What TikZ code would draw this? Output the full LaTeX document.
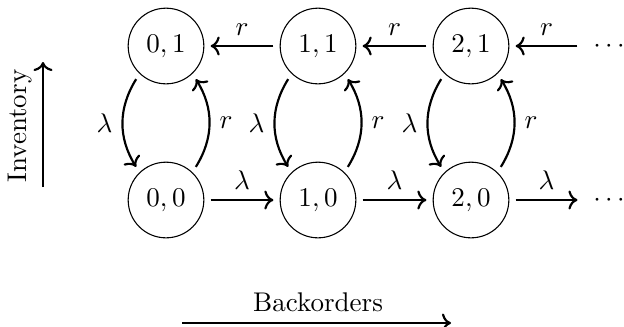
\documentclass[tikz,border=0pt]{standalone}
\usetikzlibrary{arrows.meta}
\begin{document}
\begin{tikzpicture}[x=0.37pt,y=-0.37pt,
  state/.style={circle,draw,line width=0.4pt,minimum size=28pt,inner sep=0pt,outer sep=2.5pt},
  dotsnode/.style={outer sep=2.5pt},
  flow/.style={->,thick}]
\useasboundingbox (0,0) rectangle (624,326);
% states
\node[state] (n01) at (166,46) {$0,1$};
\node[state] (n11) at (318,46) {$1,1$};
\node[state] (n21) at (471,46) {$2,1$};
\node[state] (n00) at (166,200) {$0,0$};
\node[state] (n10) at (318,200) {$1,0$};
\node[state] (n20) at (471,200) {$2,0$};
\node[dotsnode] (d1) at (609,46) {$\cdots$};
\node[dotsnode] (d0) at (609,200) {$\cdots$};
% horizontal transitions
\draw[flow] (n11) -- node[above] {$r$} (n01);
\draw[flow] (n21) -- node[above] {$r$} (n11);
\draw[flow] (d1) -- node[above] {$r$} (n21);
\draw[flow] (n00) -- node[above] {$\lambda$} (n10);
\draw[flow] (n10) -- node[above] {$\lambda$} (n20);
\draw[flow] (n20) -- node[above] {$\lambda$} (d0);
% vertical transitions
\draw[flow] (n01.228) to[bend right=32] node[left] {$\lambda$} (n00.132);
\draw[flow] (n00.48) to[bend right=32] node[right] {$r$} (n01.312);
\draw[flow] (n11.228) to[bend right=32] node[left] {$\lambda$} (n10.132);
\draw[flow] (n10.48) to[bend right=32] node[right] {$r$} (n11.312);
\draw[flow] (n21.228) to[bend right=32] node[left] {$\lambda$} (n20.132);
\draw[flow] (n20.48) to[bend right=32] node[right] {$r$} (n21.312);
% axes
\node[rotate=90] (inv) at (20,126) {Inventory};
\coordinate (invA) at (43,187);
\coordinate (invB) at (43,62);
\draw[flow] (invA) -- (invB);
\node (back) at (318,302) {Backorders};
\coordinate (backA) at (182,323);
\coordinate (backB) at (451,323);
\draw[flow] (backA) -- (backB);
\end{tikzpicture}
\end{document}
